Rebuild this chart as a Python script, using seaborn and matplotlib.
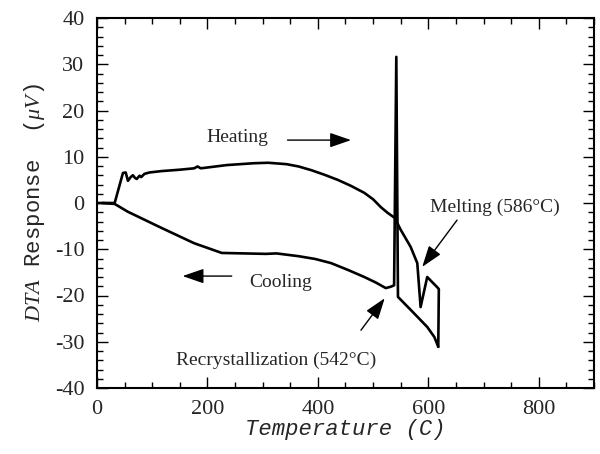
import matplotlib
matplotlib.use("Agg")
import matplotlib.pyplot as plt
import seaborn as sns
import pandas as pd
from matplotlib.ticker import MultipleLocator

# Heating branch (Temperature in C, DTA response in uV)
heating_T = [0, 32, 47, 52, 56, 61, 65, 69, 72, 77, 80, 86, 95, 117, 150, 176,
             182, 188, 235, 284, 310, 343, 365, 388, 412, 436, 460, 484, 500,
             514, 526, 539, 550, 568, 580, 586, 598, 616, 619, 618]
heating_V = [0, 0, 6.5, 6.6, 4.8, 5.6, 6.0, 5.4, 5.2, 5.9, 5.6, 6.3, 6.6, 6.9,
             7.2, 7.5, 7.9, 7.5, 8.2, 8.6, 8.7, 8.4, 7.9, 7.1, 6.1, 5.0, 3.7,
             2.2, 0.8, -0.9, -2.1, -3.2, -5.8, -9.5, -13, -22.5, -16, -18.2,
             -18.6, -31.1]

# Cooling branch
cooling_T = [618, 611, 598, 568, 545, 542, 538, 532, 523, 505, 484, 455, 424,
             395, 365, 325, 306, 226, 176, 117, 56, 32, 10]
cooling_V = [-31.1, -29, -26.8, -23.1, -20.3, 31.6, -17.8, -18.1, -18.4, -17.2,
             -16, -14.5, -13, -12.1, -11.5, -10.9, -11, -10.8, -8.7, -5.4, -1.9,
             -0.2, 0]

x_ticks = [0, 200, 400, 600, 800]
y_ticks = [-40, -30, -20, -10, 0, 10, 20, 30, 40]

sns.set_style("ticks")
plt.rcParams['font.family'] = ['Liberation Serif', 'DejaVu Serif']
plt.rcParams['mathtext.fontset'] = 'custom'
plt.rcParams['mathtext.it'] = 'Liberation Serif:italic'
plt.rcParams['mathtext.rm'] = 'Liberation Mono'

fig = plt.figure(figsize=(6.0, 4.54), dpi=100)
ax = fig.add_axes([97/600, 1 - 388/454, (594-97)/600, (388-18)/454])

heat = pd.DataFrame({"T": heating_T, "V": heating_V})
cool = pd.DataFrame({"T": cooling_T, "V": cooling_V})
sns.lineplot(data=heat, x="T", y="V", sort=False, estimator=None, ax=ax,
             color="black", linewidth=1.9)
sns.lineplot(data=cool, x="T", y="V", sort=False, estimator=None, ax=ax,
             color="black", linewidth=1.9)

ax.set_xlim(0, 900)
ax.set_ylim(-40, 40)
ax.set_xticks(x_ticks)
ax.set_yticks(y_ticks)
ax.set_xticklabels([str(t) for t in x_ticks])
ax.set_yticklabels([str(t) for t in y_ticks])
ax.xaxis.set_minor_locator(MultipleLocator(50))
ax.yaxis.set_minor_locator(MultipleLocator(2))
ax.tick_params(which="both", direction="in", top=True, right=True,
               labelsize=16, pad=9, width=1.0, color="black")
ax.tick_params(which="major", length=8)
ax.tick_params(which="minor", length=4)
for s in ax.spines.values():
    s.set_linewidth(1.5)
    s.set_color("black")

mono = ['Liberation Mono', 'DejaVu Sans Mono']
ax.set_xlabel("Temperature (C)", family=mono, style="italic", fontsize=16, labelpad=0)
ax.set_ylabel(r"$\mathit{DTA}$ Response  $\mathit{(\mu V)}$", family=mono,
              fontsize=16, labelpad=6)

arrow = dict(arrowstyle="-|>,head_length=1.3,head_width=0.45", color="black",
             lw=1.0, shrinkA=0, shrinkB=0)
ax.text(255, 14.1, "Heating", ha="center", va="center", fontsize=14)
ax.annotate("", xy=(460, 13.6), xytext=(345, 13.6), arrowprops=arrow)
ax.text(332, -17.1, "Cooling", ha="center", va="center", fontsize=14)
ax.annotate("", xy=(155, -15.8), xytext=(244, -15.8), arrowprops=arrow)
ax.text(721, -0.9, "Melting (586°C)", ha="center", va="center", fontsize=14)
ax.annotate("", xy=(589, -13.8), xytext=(652, -3.7), arrowprops=arrow)
ax.text(324, -34, "Recrystallization (542°C)", ha="center", va="center", fontsize=14)
ax.annotate("", xy=(521, -20.6), xytext=(478, -27.5), arrowprops=arrow)

fig.savefig("out.png", dpi=100)
